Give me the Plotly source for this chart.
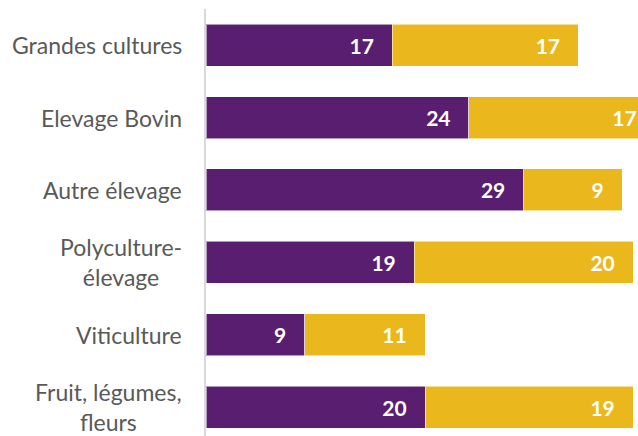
import plotly.graph_objects as go

categories = ["Grandes cultures", "Elevage Bovin", "Autre élevage",
              "Polyculture-<br>élevage", "Viticulture", "Fruit, légumes,<br>fleurs"]
serie_violet = [17, 24, 29, 19, 9, 20]
serie_jaune = [17, 17, 9, 20, 11, 19]

PURPLE = "#5A1E70"
YELLOW = "#EAB81D"
GRAY = "#595959"
pad = "\u00a0\u00a0\u00a0"

fig = go.Figure()
for vals, col in [(serie_violet, PURPLE), (serie_jaune, YELLOW)]:
    fig.add_trace(go.Bar(
        y=list(range(len(categories))), x=vals, orientation="h",
        marker=dict(color=col, line=dict(color="rgba(255,255,255,0.55)", width=1)),
        text=[f"{v}{pad}" for v in vals], textposition="inside",
        insidetextanchor="end",
        textfont=dict(family="Lato", size=21, color="white", weight="bold"),
        constraintext="none", cliponaxis=True, showlegend=False,
        hoverinfo="skip",
    ))

for i, c in enumerate(categories):
    fig.add_annotation(x=0, y=i, xref="x", yref="y", text=c, showarrow=False,
                       xanchor="right", yanchor="middle", align="center", xshift=-22,
                       font=dict(family="Lato", size=23, color=GRAY))

fig.update_layout(
    width=638, height=436, barmode="stack", bargap=0.42,
    margin=dict(l=206, r=0, t=9, b=0),
    paper_bgcolor="white", plot_bgcolor="white",
    xaxis=dict(range=[0, 39.45], showgrid=False, zeroline=False, showticklabels=False,
               showline=False, fixedrange=True),
    yaxis=dict(range=[5.4, -0.5], showgrid=False, zeroline=False, showticklabels=False,
               showline=True, linecolor="#D9D9D9", linewidth=2, mirror=False,
               fixedrange=True),
)
fig.write_html("out.html", config={"displayModeBar": False},
               post_script="document.body.style.margin='0';document.body.style.overflow='hidden';")
